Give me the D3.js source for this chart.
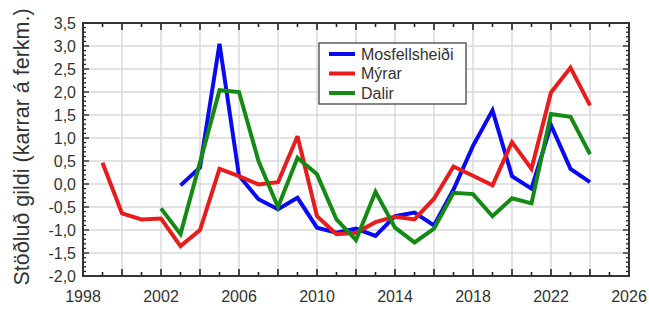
<!DOCTYPE html>
<html><head><meta charset="utf-8">
<script src="https://cdn.jsdelivr.net/npm/d3@7"></script>
<style>body{margin:0;background:#fff}svg{display:block}text{font-family:"Liberation Sans",Arial,sans-serif;fill:#333}</style>
</head><body><svg id="c" width="649" height="311"></svg>
<script>
const yearsMos = [2003,2004,2005,2006,2007,2008,2009,2010,2011,2012,2013,2014,2015,2016,2017,2018,2019,2020,2021,2022,2023,2024];
const valuesMos = [-0.03,0.36,3.05,0.18,-0.33,-0.55,-0.3,-0.95,-1.06,-0.97,-1.13,-0.7,-0.62,-0.9,-0.12,0.83,1.6,0.17,-0.1,1.28,0.33,0.04];
const yearsMyr = [1999,2000,2001,2002,2003,2004,2005,2006,2007,2008,2009,2010,2011,2012,2013,2014,2015,2016,2017,2018,2019,2020,2021,2022,2023,2024];
const valuesMyr = [0.46,-0.64,-0.77,-0.75,-1.35,-1.0,0.33,0.17,-0.01,0.04,1.04,-0.7,-1.09,-1.06,-0.83,-0.71,-0.77,-0.32,0.38,0.18,-0.03,0.91,0.33,1.99,2.53,1.71];
const yearsDal = [2002,2003,2004,2005,2006,2007,2008,2009,2010,2011,2012,2013,2014,2015,2016,2017,2018,2019,2020,2021,2022,2023,2024];
const valuesDal = [-0.53,-1.09,0.47,2.04,2.0,0.5,-0.5,0.57,0.21,-0.77,-1.22,-0.17,-0.95,-1.27,-0.97,-0.19,-0.22,-0.7,-0.31,-0.42,1.52,1.46,0.65];
const seriesNames = ["Mosfellsheiði","Mýrar","Dalir"];
const seriesColors = ["#0a0af0","#e81c1c","#138a13"];
const xTickLabels = [1998,2002,2006,2010,2014,2018,2022,2026];
const yTickLabels = [3.5,3.0,2.5,2.0,1.5,1.0,0.5,0.0,-0.5,-1.0,-1.5,-2.0];
const yLabel = "Stöðluð gildi (karrar á ferkm.)";

const svg = d3.select("#c");
const L=83,R=629,T=23,B=276;
const x = d3.scaleLinear().domain([1998,2026]).range([L,R]);
const y = d3.scaleLinear().domain([-2,3.5]).range([B,T]);
const fmt = v => d3.format(".1f")(v).replace(".",",").replace("−","-");

// grid
const gx = d3.range(2000,2026,2), gy = d3.range(-1.5,3.5,0.5);
svg.append("g").selectAll("line").data(gx).join("line")
 .attr("x1",d=>x(d)).attr("x2",d=>x(d)).attr("y1",T).attr("y2",B)
 .attr("stroke","#d8d8d8").attr("stroke-width",1.5);
svg.append("g").selectAll("line").data(gy).join("line")
 .attr("y1",d=>y(d)).attr("y2",d=>y(d)).attr("x1",L).attr("x2",R)
 .attr("stroke","#d8d8d8").attr("stroke-width",1.5);

// ticks
const minorY = d3.range(-20,36).map(v=>v/10);
const ax = svg.append("g").attr("stroke","#222");
minorY.forEach(v=>{
  const major = Math.abs(v*2-Math.round(v*2))<1e-6;
  const len = major?6:3;
  ax.append("line").attr("x1",L).attr("x2",L+len).attr("y1",y(v)).attr("y2",y(v)).attr("stroke-width",1.3);
  ax.append("line").attr("x1",R).attr("x2",R-len).attr("y1",y(v)).attr("y2",y(v)).attr("stroke-width",1.3);
});
d3.range(1998,2027).forEach(v=>{
  const major = v%2===0; const len = major?7:4;
  ax.append("line").attr("y1",B).attr("y2",B-len).attr("x1",x(v)).attr("x2",x(v)).attr("stroke-width",1.6);
  ax.append("line").attr("y1",T).attr("y2",T+len).attr("x1",x(v)).attr("x2",x(v)).attr("stroke-width",1.6);
});

// lines
const line = d3.line().x(d=>x(d[0])).y(d=>y(d[1]));
const data = [d3.zip(yearsMos,valuesMos), d3.zip(yearsMyr,valuesMyr), d3.zip(yearsDal,valuesDal)];
[0,1,2].forEach(i=>{
  svg.append("path").datum(data[i]).attr("d",line).attr("fill","none")
   .attr("stroke",seriesColors[i]).attr("stroke-width",4).attr("stroke-linejoin","miter").attr("stroke-miterlimit",3);
});

// frame
svg.append("rect").attr("x",L).attr("y",T).attr("width",R-L).attr("height",B-T)
 .attr("fill","none").attr("stroke","#333").attr("stroke-width",2);

// tick labels
svg.append("g").selectAll("text").data(yTickLabels).join("text")
 .attr("x",76).attr("y",d=>y(d)+5.5).attr("text-anchor","end").attr("font-size",16).text(fmt);
svg.append("g").selectAll("text").data(xTickLabels).join("text")
 .attr("x",d=>x(d)).attr("y",302).attr("text-anchor","middle").attr("font-size",16).text(d=>d);

// y label
svg.append("text").attr("transform","translate(29,147) rotate(-90)").attr("text-anchor","middle")
 .attr("font-size",21.5).text(yLabel);

// legend
const lg = svg.append("g");
lg.append("rect").attr("x",319).attr("y",43).attr("width",147).attr("height",61)
 .attr("fill","#fff").attr("stroke","#444").attr("stroke-width",1.3);
seriesNames.forEach((n,i)=>{
  const yy = 54+i*19.5;
  lg.append("line").attr("x1",329).attr("x2",355).attr("y1",yy).attr("y2",yy).attr("stroke",seriesColors[i]).attr("stroke-width",4);
  lg.append("text").attr("x",361).attr("y",yy+5.5).attr("font-size",16).text(n);
});
</script></body></html>
